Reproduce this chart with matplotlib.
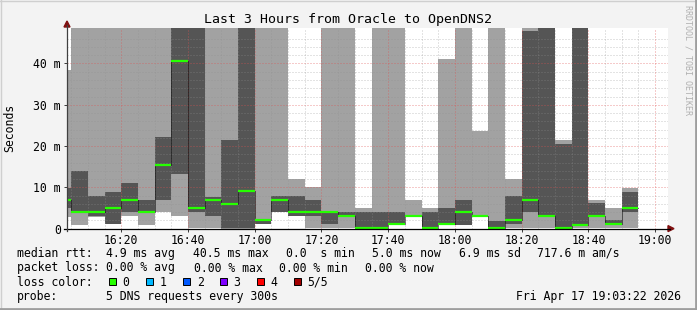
import numpy as np
import matplotlib
matplotlib.use('Agg')
import matplotlib.pyplot as plt
from matplotlib.lines import Line2D
from matplotlib.patches import Polygon, Rectangle

W, H = 697, 310
OFF = 60.0  # off the top of the graph

# 5 minute slots, minutes after 16:00
slot_start = np.arange(0, 175, 5)

ping_min = [2.8, 0.9, 2.9, 1.0, 3.0, 0.8, 4.0, 3.1, 0.1, 0.1, 0.0, 0.0, 1.0, 4.0,
            3.0, 0.1, 0.1, 0.1, 0.2, 0.2, 0.8, 2.8, 0.2, 0.8, 0.8, 2.8, 0.2, 0.1,
            0.1, 0.1, 0.1, 0.1, 0.1, 0.1, 0.1]
ping_lo = [5.0, 3.8, 3.0, 1.1, 4.0, 4.0, 6.9, 13.2, 4.0, 3.0, 0.1, 0.1, 1.0, 4.0,
           3.0, 3.0, 1.0, 3.0, 0.2, 0.2, 0.9, 2.9, 0.2, 0.9, 0.8, 2.9, 0.2, 1.0,
           4.0, 2.9, 0.1, 0.8, 3.0, 0.95, 4.0]
ping_med = [6.9, 4.0, 4.0, 5.0, 6.9, 4.0, 15.5, 40.5, 5.0, 6.9, 6.0, 9.1, 2.0, 7.0,
            4.0, 4.0, 4.0, 3.1, 0.25, 0.25, 1.0, 3.0, 0.25, 1.1, 4.0, 3.0, 0.25, 2.1,
            6.9, 3.0, 0.25, 0.9, 3.1, 1.0, 5.0]
ping_hi = [9.8, 13.9, 8.0, 8.9, 11.0, 7.0, 22.2, OFF, OFF, 7.7, 21.4, OFF, 2.1, 7.8,
           7.8, 6.9, 4.0, 4.0, 4.0, 4.0, 4.0, 3.1, 4.0, 4.9, 6.9, 3.1, 1.9, 7.8,
           47.9, OFF, 20.4, OFF, 6.1, 2.0, 8.9]
ping_max = [38.4, OFF, OFF, OFF, OFF, OFF, OFF, OFF, OFF, OFF, OFF, OFF, OFF, OFF,
            12.0, 10.0, OFF, OFF, 4.9, OFF, OFF, 6.9, 5.1, 41.2, OFF, 23.6, OFF, 12.0,
            OFF, OFF, 21.4, OFF, 6.9, 5.0, 9.8]

x_ticks = [20, 40, 60, 80, 100, 120, 140, 160, 180]
x_labels = ['16:20', '16:40', '17:00', '17:20', '17:40', '18:00', '18:20', '18:40', '19:00']
y_ticks = [0, 10, 20, 30, 40]
y_labels = ['0', '10 m', '20 m', '30 m', '40 m']

loss_labels = ['0', '1', '2', '3', '4', '5/5']
loss_colors = ['#26ff00', '#00b8ff', '#0059ff', '#7e00ff', '#ff0000', '#a10000']

rtt_line = [('median rtt:', 17.3), ('4.9 ms avg', 106.7), ('40.5 ms max', 193.3),
            ('0.0  s min', 286.7), ('5.0 ms now', 372.3), ('6.9 ms sd', 460.0),
            ('717.6 m am/s', 537.3)]
loss_line = [('packet loss:', 17.3), ('0.00 % avg', 106.7), ('0.00 % max', 194.3),
             ('0.00 % min', 280.0), ('0.00 % now', 365.7)]

MONO = 'DejaVu Sans Mono'
FS = 8.3


def px(x, y):
    return x / W, 1 - y / H


fig = plt.figure(figsize=(W / 100, H / 100), dpi=100, facecolor='#f3f3f3')
ax = fig.add_axes([67 / W, 1 - 228.6 / H, 600.5 / W, 200.6 / H])
ax.set_facecolor('white')
ax.set_xlim(3.72, 183.72)
ax.set_ylim(0, 48.6)

# smoke
ax.bar(slot_start, np.subtract(ping_max, ping_min), bottom=ping_min, width=5,
       align='edge', color='#a2a2a2', lw=0, zorder=1)
ax.bar(slot_start, np.subtract(ping_hi, ping_lo), bottom=ping_lo, width=5,
       align='edge', color='#555555', lw=0, zorder=2)

# grid over the smoke
for v in np.arange(2, 48, 2):
    if v % 10:
        ax.axhline(v, color='#909090', alpha=0.5, lw=0.72, ls=(0, (1, 2)), zorder=3)
    else:
        ax.axhline(v, color='#e05050', alpha=0.6, lw=0.72, ls=(0, (1, 2)), zorder=3)
for t in np.arange(5, 184, 5):
    if t % 20:
        ax.axvline(t, color='#909090', alpha=0.5, lw=0.72, ls=(0, (1, 2)), zorder=3)
    else:
        ax.axvline(t, color='#e05050', alpha=0.6, lw=0.72, ls=(0, (1, 2)), zorder=3)

# median
edges = np.append(slot_start, slot_start[-1] + 5)
ax.step(edges, ping_med + ping_med[-1:], where='post', color='black',
        lw=0.72, ls=(0, (1, 1)), zorder=4)
ax.hlines(ping_med, slot_start, slot_start + 5, color=loss_colors[0], lw=1.6, zorder=5)

ax.set_xticks(x_ticks)
ax.set_xticklabels(x_labels, family=MONO, fontsize=FS)
ax.set_yticks(y_ticks)
ax.set_yticklabels(y_labels, family=MONO, fontsize=FS)
ax.tick_params(length=2, width=0.72, color='#404040', pad=2.5)
ax.tick_params(axis='x', pad=1.6)
for s in ax.spines.values():
    s.set_visible(False)

# axes with arrows
fig.add_artist(Line2D([px(64, 0)[0], px(670, 0)[0]], [px(0, 228.6)[1]] * 2,
                      color='black', lw=0.9))
fig.add_artist(Line2D([px(67, 0)[0]] * 2, [px(0, 231)[1], px(0, 25)[1]],
                      color='#404040', lw=0.9))
fig.add_artist(Polygon([px(668, 225.6), px(674, 228.6), px(668, 231.6)],
                       closed=True, color='#801010', transform=fig.transFigure))
fig.add_artist(Polygon([px(64, 27), px(67, 21), px(70, 27)],
                       closed=True, color='#801010', transform=fig.transFigure))

# frame
fig.add_artist(Line2D([0, 1], [1 - 0.5 / H] * 2, color='#cfcfcf', lw=1))
fig.add_artist(Line2D([0.5 / W] * 2, [0, 1], color='#cfcfcf', lw=1))
fig.add_artist(Line2D([0, 1], [1.5 / H] * 2, color='#9e9e9e', lw=2))
fig.add_artist(Line2D([1 - 1.5 / W] * 2, [0, 1], color='#9e9e9e', lw=2))

fig.text(*px(348.5, 19), 'Last 3 Hours from Oracle to OpenDNS2', ha='center',
         va='center', family=MONO, fontsize=9.5)
fig.text(*px(10, 128), 'Seconds', rotation=90, ha='center', va='center',
         family=MONO, fontsize=FS)
fig.text(*px(688, 5), 'RRDTOOL / TOBI OETIKER', rotation=270, ha='center',
         va='top', family=MONO, fontsize=6, color='#b0b0b0')

for txt, x in rtt_line:
    fig.text(*px(x - 0.6, 257), txt, family=MONO, fontsize=FS, va='baseline')
for txt, x in loss_line:
    fig.text(*px(x - 0.6, 271.5), txt, family=MONO, fontsize=FS, va='baseline')

fig.text(*px(16.7, 285.5), 'loss color:', family=MONO, fontsize=FS, va='baseline')
for i, (lab, col) in enumerate(zip(loss_labels, loss_colors)):
    bx = 108.7 + 37 * i
    fig.add_artist(Rectangle(px(bx, 285.3), 7.3 / W, 7.6 / H, facecolor=col,
                             edgecolor='black', lw=0.7, transform=fig.transFigure))
    fig.text(*px(bx + 14.0, 285.5), lab, family=MONO, fontsize=FS, va='baseline')

fig.text(*px(16.7, 300), 'probe:', family=MONO, fontsize=FS, va='baseline')
fig.text(*px(106.1, 300), '5 DNS requests every 300s', family=MONO, fontsize=FS,
         va='baseline')
fig.text(*px(681, 300), 'Fri Apr 17 19:03:22 2026', family=MONO, fontsize=FS,
         va='baseline', ha='right')

fig.savefig('out.png', dpi=100, facecolor=fig.get_facecolor())
